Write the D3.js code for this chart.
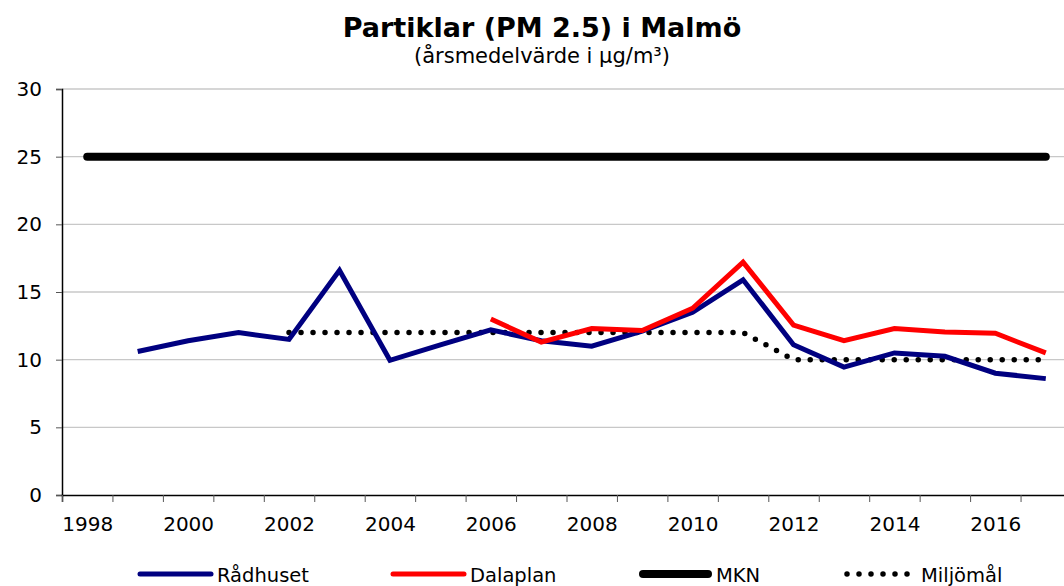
<!DOCTYPE html>
<html>
<head>
<meta charset="utf-8">
<script src="https://cdn.jsdelivr.net/npm/d3@7"></script>
<style>
body{margin:0;background:#fff;}
text{font-family:"DejaVu Sans",Verdana,sans-serif;fill:#000;}
</style>
</head>
<body>
<script>
var years = d3.range(1998, 2018);
var labelYears = [1998,2000,2002,2004,2006,2008,2010,2012,2014,2016];
var yTicks = [0,5,10,15,20,25,30];

var radhusYears = d3.range(1999, 2018);
var radhusVals = [10.6,11.4,12.0,11.5,16.6,9.95,11.1,12.2,11.4,11.0,12.1,13.5,15.9,11.1,9.45,10.5,10.25,9.0,8.6];

var dalaYears = d3.range(2006, 2018);
var dalaVals = [13.0,11.3,12.3,12.15,13.8,17.2,12.55,11.4,12.3,12.05,11.95,10.5];

var mknYears = d3.range(1998, 2018);
var mknVals = mknYears.map(function(){ return 25; });

var miljoYears = d3.range(2002, 2018);
var miljoVals = [12,12,12,12,12,12,12,12,12,12,10,10,10,10,10,10];

var svg = d3.select("body").append("svg").attr("width",1064).attr("height",586);

var x = d3.scaleLinear().domain([1997.5,2017.5]).range([62,1071]);
var y = d3.scaleLinear().domain([0,30]).range([495,89]);

// grid
svg.append("g").selectAll("line")
  .data(yTicks.filter(function(d){return d>0;}))
  .enter().append("line")
    .attr("x1",62).attr("x2",1071)
    .attr("y1",function(d){return y(d);}).attr("y2",function(d){return y(d);})
    .attr("stroke","#c8c8c8").attr("stroke-width",1.3);

// axes
var yAxis = d3.axisLeft(y).tickValues(yTicks).tickSize(6).tickPadding(14);
var gy = svg.append("g").attr("transform","translate(62,0)").call(yAxis);
gy.select(".domain").attr("stroke","#000").attr("stroke-width",1.5);
gy.selectAll(".tick line").attr("stroke","#555");
gy.selectAll("text").attr("font-size","20px").style("font-family","'DejaVu Sans',Verdana,sans-serif");

var xTickAxis = d3.axisBottom(x).tickValues(d3.range(1997.5,2017.6,1)).tickSize(7).tickFormat("");
var gx = svg.append("g").attr("transform","translate(0,495)").call(xTickAxis);
gx.select(".domain").attr("stroke","#000").attr("stroke-width",1.5);
gx.selectAll(".tick line").attr("stroke","#555");

var xLabelAxis = d3.axisBottom(x).tickValues(labelYears).tickSize(0).tickPadding(22).tickFormat(d3.format("d"));
var gl = svg.append("g").attr("transform","translate(0,495)").call(xLabelAxis);
gl.select(".domain").remove();
gl.selectAll("text").attr("font-size","20px").style("font-family","'DejaVu Sans',Verdana,sans-serif");

function series(xs, vs){
  return xs.map(function(d,i){ return [d, vs[i]]; });
}
var line = d3.line().x(function(d){return x(d[0]);}).y(function(d){return y(d[1]);});

svg.append("path").datum(series(mknYears,mknVals)).attr("d",line)
  .attr("fill","none").attr("stroke","#000").attr("stroke-width",8).attr("stroke-linecap","round");

svg.append("path").datum(series(miljoYears,miljoVals)).attr("d",line)
  .attr("fill","none").attr("stroke","#000").attr("stroke-width",5.5)
  .attr("stroke-linecap","round").attr("stroke-dasharray","0 12");

svg.append("path").datum(series(radhusYears,radhusVals)).attr("d",line)
  .attr("fill","none").attr("stroke","#000080").attr("stroke-width",5).attr("stroke-linejoin","miter");

svg.append("path").datum(series(dalaYears,dalaVals)).attr("d",line)
  .attr("fill","none").attr("stroke","#ff0000").attr("stroke-width",5).attr("stroke-linejoin","miter");

// titles
svg.append("text").attr("x",542).attr("y",37).attr("text-anchor","middle")
  .attr("font-size","27px").attr("font-weight","bold").text("Partiklar (PM 2.5) i Malmö");
svg.append("text").attr("x",542).attr("y",63).attr("text-anchor","middle")
  .attr("font-size","21px").text("(årsmedelvärde i µg/m³)");

// legend
var legend = [
  {name:"Rådhuset", color:"#000080", w:5, dash:null, x1:140, x2:211, tx:217},
  {name:"Dalaplan", color:"#ff0000", w:5, dash:null, x1:393, x2:464, tx:470},
  {name:"MKN", color:"#000", w:8, dash:null, x1:643, x2:708, tx:716},
  {name:"Miljömål", color:"#000", w:5.5, dash:"0 12", x1:847, x2:909, tx:921}
];
var lg = svg.append("g").selectAll("g").data(legend).enter().append("g");
lg.append("line")
  .attr("x1",function(d){return d.x1;}).attr("x2",function(d){return d.x2;})
  .attr("y1",574).attr("y2",574)
  .attr("stroke",function(d){return d.color;})
  .attr("stroke-width",function(d){return d.w;})
  .attr("stroke-linecap","round")
  .attr("stroke-dasharray",function(d){return d.dash;});
lg.append("text").attr("x",function(d){return d.tx;}).attr("y",582)
  .attr("font-size","19.5px").text(function(d){return d.name;});
</script>
</body>
</html>
